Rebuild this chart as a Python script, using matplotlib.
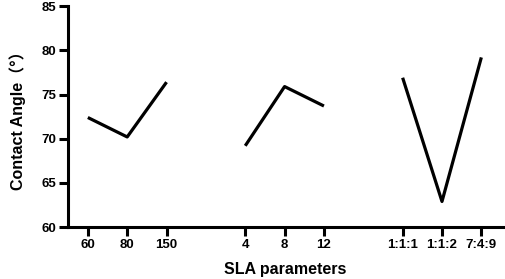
import numpy as np
import matplotlib.pyplot as plt

plt.rcParams['font.family'] = ['Liberation Sans', 'Noto Sans CJK SC', 'DejaVu Sans']
plt.rcParams['font.weight'] = 'bold'

# 三組 SLA 參數
groups = [
    ['60', '80', '150'],
    ['4', '8', '12'],
    ['1:1:1', '1:1:2', '7:4:9'],
]
angles = [
    [72.4, 70.2, 76.4],
    [69.2, 75.9, 73.7],
    [76.9, 62.9, 79.2],
]

fig = plt.figure(figsize=(5.05, 2.79), dpi=100)
ax = fig.add_axes([0.135, 0.186, 0.861, 0.792])

ticks, labels = [], []
for g, (cats, vals) in enumerate(zip(groups, angles)):
    xs = np.arange(len(cats)) + 1 + g * (len(cats) + 1)
    ax.plot(xs, vals, color='black', lw=2.3, solid_capstyle='butt')
    ticks.extend(xs)
    labels.extend(cats)

ax.set_xticks(ticks)
ax.set_xticklabels(labels)
ax.set_xlim(0.5, 11.55)
ax.set_ylim(60, 85)
ax.set_yticks(np.arange(60, 86, 5))

for s in ['top', 'right']:
    ax.spines[s].set_visible(False)
for s in ['left', 'bottom']:
    ax.spines[s].set_linewidth(2.2)
ax.tick_params(width=2.2, length=6.5, labelsize=9.5, pad=2)

ax.set_xlabel('SLA parameters', fontsize=11.5, fontweight='bold', labelpad=8)
ax.set_ylabel('Contact Angle（°）', fontsize=11.5, fontweight='bold', labelpad=11)

fig.savefig('out.png', dpi=100)
